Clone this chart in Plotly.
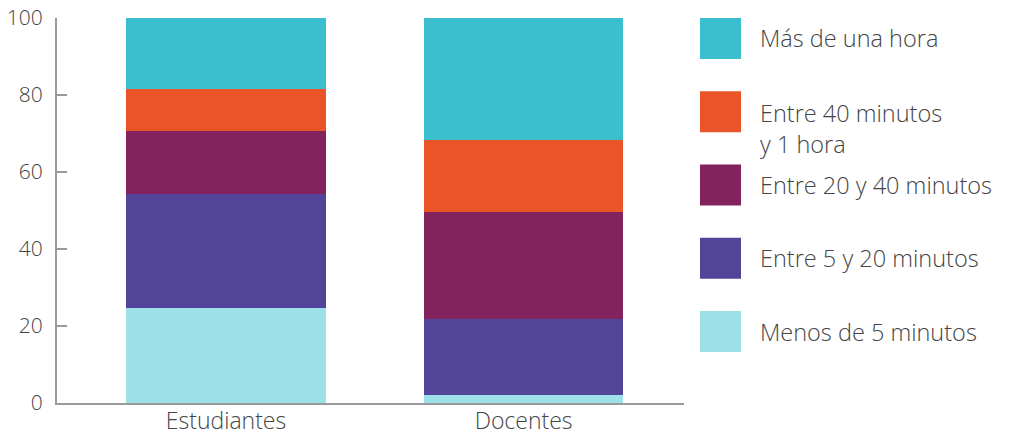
import plotly.graph_objects as go

categories = ["Estudiantes", "Docentes"]
series_names = ["Menos de 5 minutos", "Entre 5 y 20 minutos", "Entre 20 y 40 minutos",
                "Entre 40 minutos<br>y 1 hora", "Más de una hora"]
menos_5 = [24.7, 2.1]
entre_5_20 = [29.7, 19.7]
entre_20_40 = [16.2, 27.8]
entre_40_60 = [11.0, 18.8]
mas_1h = [18.4, 31.6]
series_values = [menos_5, entre_5_20, entre_20_40, entre_40_60, mas_1h]
colors = ["#9EE0E7", "#524499", "#82235E", "#E95428", "#3BBFCE"]
y_ticks = [0, 20, 40, 60, 80, 100]

FONT = "Open Sans"
TXT = "#444444"
AX = "#9a9a9a"

fig = go.Figure()
for name, vals, col in zip(series_names, series_values, colors):
    fig.add_trace(go.Bar(x=[0, 1], y=vals, name=name, marker_color=col,
                         marker_line_width=0, width=0.669, showlegend=False))

W, H = 1017, 435
L, R, T, B = 57, 333, 18, 32
pw, ph = W - L - R, H - T - B

def px_x(p):
    return (p - L) / pw

def px_y(p):
    return (H - B - p) / ph

# manual legend (top entry first)
order = list(range(len(series_names)))[::-1]
first_c, step = 38.5, 73.25
for i, idx in enumerate(order):
    c = first_c + i * step
    fig.add_shape(type="rect", xref="paper", yref="paper",
                  x0=px_x(700), x1=px_x(741), y0=px_y(c + 20.5), y1=px_y(c - 20.5),
                  fillcolor=colors[idx], line_width=0)
    name = series_names[idx]
    fnt = dict(family=FONT, size=23.5, color=TXT, weight=300)
    if "<br>" in name:
        fig.add_annotation(xref="paper", yref="paper", x=px_x(758), y=px_y(c - 17),
                           text=name, showarrow=False, xanchor="left", yanchor="top",
                           align="left", font=fnt)
    else:
        fig.add_annotation(xref="paper", yref="paper", x=px_x(758), y=px_y(c),
                           text=name, showarrow=False, xanchor="left", yanchor="middle",
                           align="left", font=fnt)

fig.update_layout(
    barmode="stack",
    width=W, height=H,
    margin=dict(l=L, r=R, t=T, b=B, pad=0, autoexpand=False),
    plot_bgcolor="white", paper_bgcolor="white",
    font=dict(family=FONT, size=20, color=TXT, weight=300),
    xaxis=dict(range=[-0.568, 1.539], tickvals=[0, 1], ticktext=categories,
               showline=True, linecolor=AX, linewidth=2, ticks="", showgrid=False,
               zeroline=False, automargin=False, ticklabelstandoff=-4,
               tickfont=dict(family=FONT, size=23, color=TXT, weight=300)),
    yaxis=dict(range=[0, 100], tickvals=y_ticks, showline=True, linecolor=AX,
               linewidth=2, ticks="inside", ticklen=10, tickcolor=AX, tickwidth=2,
               showgrid=False, zeroline=False, ticklabelstandoff=8, automargin=False,
               tickfont=dict(family=FONT, size=21, color=TXT, weight=300)),
)

fig.write_html("out.html")
